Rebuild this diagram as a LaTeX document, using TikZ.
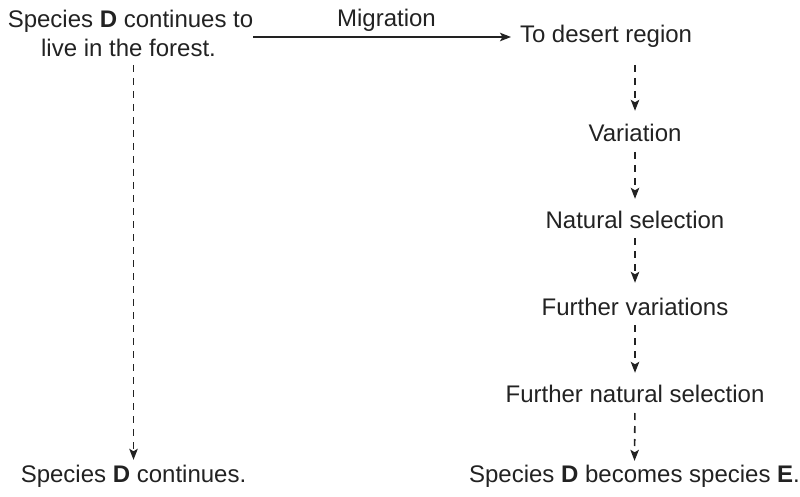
\documentclass[tikz,border=0pt]{standalone}
\usepackage{fontspec}
\setmainfont{Liberation Sans}
\usetikzlibrary{arrows.meta}
\definecolor{ink}{HTML}{222222}
\begin{document}
\begin{tikzpicture}[x=1pt,y=-1pt,
  every node/.style={text=ink,font=\fontsize{24}{29}\selectfont,
    inner sep=0pt,outer sep=0pt,text height=17.2pt,text depth=0pt},
  txt/.style={anchor=base},
  flow/.style={draw=ink,line width=1.4pt,
    -{Stealth[length=11pt,width=8.5pt,inset=2.5pt]}},
  dflow/.style={flow,line width=1.6pt,dash pattern=on 7pt off 6pt,shorten <=10pt,shorten >=12pt}]
\useasboundingbox (0,0) rectangle (800,497);
% left branch: the species stays in the forest
\node[txt] (forest1) at (130.5,28) {Species \textbf{D} continues to};
\node[txt] (forest2) at (128.5,57) {live in the forest.};
\node[txt] (same) at (133.5,482) {Species \textbf{D} continues.};
% right branch: migration and speciation
\node[txt,anchor=base west] (desert) at (520,43) {To desert region};
\node[txt] (var) at (635,142) {Variation};
\node[txt] (nat) at (635,228) {Natural selection};
\node[txt] (fvar) at (635,315) {Further variations};
\node[txt] (fnat) at (635,402) {Further natural selection};
\node[txt] (newsp) at (634.5,482) {Species \textbf{D} becomes species \textbf{E}.};
% migration arrow
\coordinate (migstart) at (253,37);
\draw[flow,shorten >=9pt] (migstart) -- node[above=10pt] (mig) {Migration} (desert.west |- migstart);
% dashed chains
\draw[dflow,shorten <=8pt,shorten >=5pt] (forest2.south -| same.north) -- (same.north);
\draw[dflow,shorten <=22pt,shorten >=14pt] (desert.south -| var.north) -- (var.north);
\draw[dflow] (var.south) -- (nat.north);
\draw[dflow,shorten >=15pt] (nat.south) -- (fvar.north);
\draw[dflow] (fvar.south) -- (fnat.north);
\draw[dflow,shorten <=11pt,shorten >=4pt] (fnat.south) -- (newsp.north);
\end{tikzpicture}
\end{document}
